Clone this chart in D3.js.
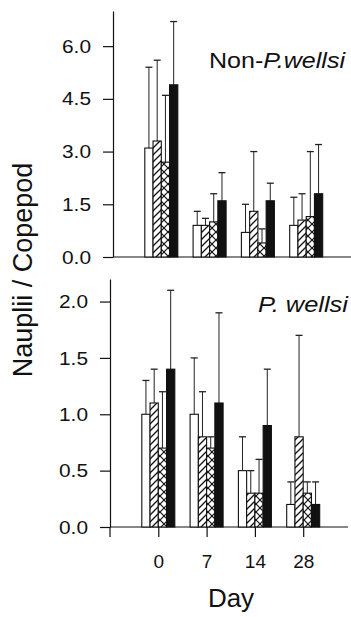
<!DOCTYPE html>
<html>
<head>
<meta charset="utf-8">
<script src="https://cdn.jsdelivr.net/npm/d3@7"></script>
<style>
  body { margin: 0; background: #fff; }
  svg text { font-family: "Liberation Sans", Arial, Helvetica, sans-serif; fill: #111; }
  .axis path, .axis line { stroke: #111; stroke-width: 1.2; }
  .axis text { font-size: 19px; }
</style>
</head>
<body>
<div id="chart"></div>
<script>
var days = ["0", "7", "14", "28"]
var treatments = ["open", "diag", "cross", "solid"]

// Non-P. wellsi, mean and SD per day, in treatment order
var nonMean = [[3.1, 3.3, 2.7, 4.9], [0.9, 0.9, 1.0, 1.6], [0.7, 1.3, 0.4, 1.6], [0.9, 1.05, 1.15, 1.8]]
var nonSd   = [[2.3, 2.3, 1.9, 1.8], [0.4, 0.2, 0.8, 0.8], [0.8, 1.7, 0.4, 0.5], [0.8, 0.75, 1.85, 1.4]]
var nonTicks = [0, 1.5, 3, 4.5, 6]

// P. wellsi
var pwMean = [[1.0, 1.1, 0.7, 1.4], [1.0, 0.8, 0.7, 1.1], [0.5, 0.3, 0.3, 0.9], [0.2, 0.8, 0.3, 0.2]]
var pwSd   = [[0.3, 0.3, 0.5, 0.7], [0.5, 0.4, 0.1, 0.8], [0.3, 0.2, 0.3, 0.5], [0.2, 0.9, 0.1, 0.2]]
var pwTicks = [0, 0.5, 1, 1.5, 2]

var W = 351, H = 617
var svg = d3.select("#chart").append("svg")
  .attr("width", W).attr("height", H)

var defs = svg.append("defs")
{
  const p1 = defs.append("pattern").attr("id", "diag")
    .attr("patternUnits", "userSpaceOnUse").attr("width", 7).attr("height", 7)
  p1.append("rect").attr("width", 7).attr("height", 7).attr("fill", "#fff")
  p1.append("path").attr("d", "M-1,8 L8,-1 M-1,1 L1,-1 M6,8 L8,6")
    .attr("stroke", "#111").attr("stroke-width", 1.3)

  const p2 = defs.append("pattern").attr("id", "cross")
    .attr("patternUnits", "userSpaceOnUse").attr("width", 8).attr("height", 8)
  p2.append("rect").attr("width", 8).attr("height", 8).attr("fill", "#fff")
  p2.append("path").attr("d", "M0,0 L8,8 M0,8 L8,0")
    .attr("stroke", "#111").attr("stroke-width", 1.2)
}

var fills = { open: "#fff", diag: "url(#diag)", cross: "url(#cross)", solid: "#111" }

var barW = 8.25, step = 48.3

function panel(opt) {
  var y = d3.scaleLinear().domain(opt.domain).range([opt.y0, opt.y1])
  var x = d3.scalePoint().domain(days).range([opt.x0 + step, opt.x0 + step * 4])
  var xb = d3.scaleBand().domain(treatments).range([-barW * 2, barW * 2])

  var g = svg.append("g")

  // y axis
  g.append("g").attr("class", "axis")
    .attr("transform", "translate(" + opt.x0 + ",0)")
    .call(d3.axisLeft(y).tickValues(opt.ticks).tickFormat(d3.format(".1f"))
      .tickSize(10).tickSizeOuter(0).tickPadding(12))
    .selectAll(".tick text")
    .attr("textLength", 29).attr("lengthAdjust", "spacingAndGlyphs")

  // baseline
  g.append("line")
    .attr("x1", opt.x0).attr("x2", opt.x0 + 238)
    .attr("y1", y(0)).attr("y2", y(0))
    .attr("stroke", "#111").attr("stroke-width", 1.2)

  var rows = []
  days.forEach(function(d, i) {
    treatments.forEach(function(t, j) {
      rows.push({ day: d, tr: t, mean: opt.mean[i][j], sd: opt.sd[i][j] })
    })
  })

  var cx = function(d) { return x(d.day) + xb(d.tr) + barW / 2 }

  // error bars (upper only)
  var eb = g.selectAll(".err").data(rows).enter().append("g").attr("class", "err")
  eb.append("line")
    .attr("x1", cx).attr("x2", cx)
    .attr("y1", d => y(d.mean)).attr("y2", d => y(d.mean + d.sd))
    .attr("stroke", "#222").attr("stroke-width", 1)
  eb.append("line")
    .attr("x1", d => cx(d) - 3.5).attr("x2", d => cx(d) + 3.5)
    .attr("y1", d => y(d.mean + d.sd)).attr("y2", d => y(d.mean + d.sd))
    .attr("stroke", "#222").attr("stroke-width", 1.3)

  g.selectAll(".bar").data(rows).enter().append("rect")
    .attr("class", "bar")
    .attr("x", d => x(d.day) + xb(d.tr))
    .attr("width", barW)
    .attr("y", d => y(d.mean))
    .attr("height", d => y(0) - y(d.mean))
    .attr("fill", d => fills[d.tr])
    .attr("stroke", "#111").attr("stroke-width", 1.1)

  return { x: x, y: y, g: g }
}

var top = panel({ domain: [0, 7], y0: 257, y1: 11, x0: 113, ticks: nonTicks, mean: nonMean, sd: nonSd })
var bot = panel({ domain: [0, 2.2], y0: 527, y1: 279, x0: 110, ticks: pwTicks, mean: pwMean, sd: pwSd })

// x axis of lower panel
bot.g.append("g").attr("class", "axis")
  .attr("transform", "translate(0," + bot.y(0) + ")")
  .call(d3.axisBottom(bot.x).tickSize(10).tickSizeOuter(0).tickPadding(18))
  .call(g => g.select(".domain").remove())
bot.g.append("line")
  .attr("x1", 110).attr("x2", 110).attr("y1", bot.y(0)).attr("y2", bot.y(0) + 10)
  .attr("stroke", "#111").attr("stroke-width", 1.2)

// panel labels
var t1 = svg.append("text").attr("x", 345).attr("y", 68)
  .attr("text-anchor", "end").style("font-size", "22px")
  .attr("textLength", 136).attr("lengthAdjust", "spacingAndGlyphs")
t1.append("tspan").text("Non-")
t1.append("tspan").style("font-style", "italic").text("P.wellsi")

svg.append("text").attr("x", 348).attr("y", 312)
  .attr("text-anchor", "end").style("font-size", "22px").style("font-style", "italic")
  .attr("textLength", 90).attr("lengthAdjust", "spacingAndGlyphs")
  .text("P. wellsi")

// axis titles
svg.append("text")
  .attr("transform", "translate(32,270) rotate(-90)")
  .attr("text-anchor", "middle").style("font-size", "27px")
  .text("Nauplii / Copepod")

svg.append("text").attr("x", 231).attr("y", 607)
  .attr("text-anchor", "middle").style("font-size", "26px")
  .text("Day")
</script>
</body>
</html>
